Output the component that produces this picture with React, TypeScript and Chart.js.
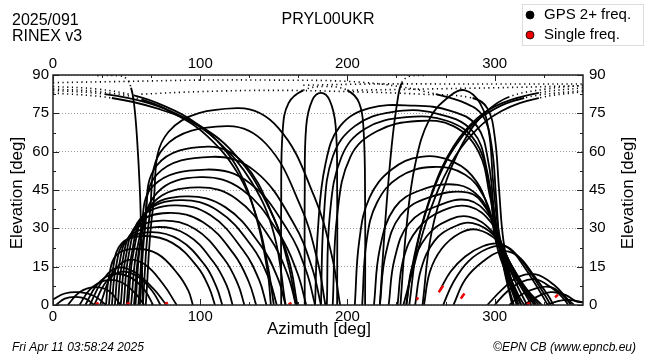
import React, { useEffect, useRef } from 'react';
import { Chart, registerables } from 'chart.js';

Chart.register(...registerables);

const FONT = '"Liberation Sans", Arial, Helvetica, sans-serif';

// ---- axis ticks ----
const azimuthTickValues = [0, 100, 200, 300];
const azimuthMinorTicks = [33.3, 66.7, 133.3, 166.7, 233.3, 266.7, 333.3];
const elevationTickValues = [0, 15, 30, 45, 60, 75, 90];
const elevationMinorTicks = [7.5, 22.5, 37.5, 52.5, 67.5, 82.5];

// ---- texts ----
const stationName = 'PRYL00UKR';
const headerLines = ['2025/091', 'RINEX v3'];
const legendLabels = ['GPS 2+ freq.', 'Single freq.'];
const footerLeft = 'Fri Apr 11 03:58:24 2025';
const footerRight = '\u00A9EPN CB (www.epncb.eu)';

// ---- satellite tracks: [azimuth deg, elevation deg] ----
const northEastArches: number[][][] = [
  [[2, 0], [8, 2.5], [15, 3.2], [22, 2.5], [28, 0]],
  [[0, 2.2], [8, 4.5], [18, 5], [28, 3.5], [36, 0]],
  [[10, 0], [18, 5], [28, 7], [38, 5.5], [46, 0]],
  [[18, 0], [25, 6], [35, 9.5], [46, 9], [56, 4.5], [62, 0]],
  [[22, 0], [30, 8], [40, 12], [52, 11], [62, 6], [68, 0]],
  [[25, 0], [33, 9], [43, 14.5], [55, 13], [68, 6.5], [77, 0]],
  [[28, 0], [36, 9], [46, 13], [58, 11], [68, 5], [73, 0]],
  [[32, 0], [40, 12], [50, 17.5], [62, 16], [75, 8], [84, 0]],
  [[36, 0], [38, 11], [43, 19.5], [55, 22], [71, 20], [85, 12], [92, 5.5], [95, 0]],
  [[38, 0], [40.5, 13.5], [46.5, 24], [62, 27], [81, 24.3], [98, 15], [106, 6.8], [110, 0]],
  [[40, 0], [42.6, 14.3], [49, 25], [66, 28.5], [85.5, 25.6], [103, 15.7], [111, 7.1], [115, 0]],
  [[42, 0], [44.8, 15.3], [51.8, 26.8], [70, 30.5], [91, 27.5], [109, 16.8], [118, 7.6], [122, 0]],
  [[44, 0], [47, 16.5], [54.5, 29], [74, 33], [96.5, 29.7], [116, 18.2], [125.5, 8.3], [130, 0]],
  [[46, 0], [49.2, 18], [57.2, 31.7], [78, 36], [102, 32.4], [123, 19.8], [133, 9], [138, 0]],
  [[48, 0], [51.4, 19.5], [60, 34.3], [82, 39], [107, 35.1], [129, 21.5], [140, 9.8], [145, 0]],
  [[50, 0], [53.6, 20.5], [62.6, 36], [86, 41], [112, 36.9], [135.5, 22.6], [146.7, 10.3], [152, 0]],
  [[51, 0], [54.9, 21.3], [64.7, 37.4], [90, 42.5], [117, 38.3], [141, 23.4], [152.6, 10.6], [158, 0]],
  [[53, 0], [57.5, 23], [68.8, 40.5], [98, 46], [124.8, 41.4], [148.3, 25.3], [159.6, 11.5], [165, 0]],
  [[55, 0], [59.5, 25], [70.8, 44], [100, 50], [128.8, 45], [154, 27.5], [166, 12.5], [172, 0]],
  [[56, 0], [59.8, 26.5], [68, 46.6], [104, 53], [133.6, 47.7], [159.5, 29.2], [172, 13.3], [178, 0]],
  [[58, 0], [62, 29], [70.5, 51], [108, 58], [137.6, 52.2], [163.5, 31.9], [176, 14.5], [182, 0]],
  [[59, 0], [62.7, 31], [70.5, 54.6], [105, 62], [129, 55.8], [150, 34.1], [160, 15.5], [165, 0]],
  [[61, 0], [65.6, 35], [75.3, 61.6], [118, 70], [144.8, 63], [168.3, 38.5], [179.6, 17.5], [185, 0]],
  [[63, 0], [68, 38.5], [78.5, 67.8], [125, 77], [153, 69.3], [177.5, 42.4], [189.4, 19.3], [195, 0]],
];

const zenithToSouthEast: number[][][] = [
  [[0, 85.5], [30, 84.5], [55, 82], [75, 78], [95, 72], [115, 62], [130, 48], [140, 30], [146, 12], [148, 0]],
  [[0, 84.5], [30, 83.5], [60, 80.5], [85, 74], [105, 66], [125, 52], [138, 35], [146, 15], [150, 0]],
  [[0, 84], [35, 82.5], [65, 79], [90, 73], [112, 64], [135, 48], [150, 28], [158, 0]],
  [[0, 83], [40, 81], [70, 77], [100, 70], [125, 58], [145, 40], [160, 18], [166, 0]],
];

const overheadPasses: number[][][] = [
  [[0, 87], [50, 87.5], [100, 88], [150, 88], [200, 87.5], [235, 85.5], [260, 82.5], [280, 79], [292, 74], [298, 62], [301, 42], [304, 22], [310, 6], [313, 0]],
  [[60, 82.5], [100, 83.5], [150, 84], [200, 83.5], [250, 82.5], [285, 81], [295, 77], [300, 66], [303, 45], [306, 25], [312, 8], [316, 0]],
  [[170, 86], [220, 86.5], [270, 86.5], [320, 86.5], [360, 86.5]],
  [[200, 84], [250, 84.5], [300, 85], [360, 85.8]],
  [[30, 89.7], [45, 89.7], [50, 88.5], [53, 85], [55, 79], [57, 66], [59, 45], [60, 25], [61, 0]],
  [[222, 0], [226, 35], [230, 62], [234, 80], [237, 87], [242, 89.5], [252, 89.8]],
  [[155, 0], [155, 40], [156, 68], [160, 79], [170, 84], [185, 85.5], [200, 84], [208, 79], [211, 68], [212, 40], [212, 0]],
  [[171, 0], [171, 45], [172, 70], [176, 80], [182, 83], [188, 80], [192, 70], [193, 45], [193, 0]],
];

const southWestArches: number[][][] = [
  [[236, 0], [240, 30], [246, 55], [256, 73], [270, 82], [280, 84], [290, 79], [296, 68], [299, 48], [303, 28], [310, 12], [318, 0]],
  [[178, 0], [180, 30], [185, 55], [195, 70], [215, 77], [245, 78], [270, 76], [288, 70], [296, 55], [300, 35], [306, 15], [312, 0]],
  [[182, 0], [184, 35], [190, 58], [205, 70], [230, 75.5], [260, 75], [285, 68], [295, 52], [300, 30], [308, 12], [315, 0]],
  [[186, 0], [188, 35], [196, 58], [212, 69], [240, 73.5], [268, 72], [287, 64], [296, 48], [302, 28], [310, 10], [316, 0]],
  [[190, 0], [193, 35], [202, 58], [220, 68], [248, 72], [272, 70], [289, 60], [297, 42], [304, 22], [312, 6], [316, 0]],
  [[205, 0], [208, 25], [215, 42], [230, 53], [250, 58], [272, 56], [288, 48], [297, 35], [303, 20], [312, 7], [318, 0]],
  [[210, 0], [213, 25], [220, 40], [235, 50], [258, 54], [280, 51], [293, 42], [300, 30], [307, 16], [316, 4], [320, 0]],
  [[218, 0], [222, 22], [232, 38], [250, 45], [275, 47], [290, 42], [299, 32], [306, 20], [315, 8], [322, 0]],
  [[222, 0], [226, 20], [236, 35], [255, 42], [282, 44], [294, 38], [302, 27], [310, 15], [320, 5], [325, 0]],
  [[228, 0], [232, 18], [242, 32], [262, 39], [282, 41], [296, 35], [304, 25], [312, 14], [322, 4], [327, 0]],
  [[234, 0], [238, 18], [248, 30], [265, 37], [283, 38.5], [298, 32], [306, 22], [315, 11], [326, 2], [328, 0]],
  [[240, 0], [244, 15], [254, 27], [268, 33], [283, 34.5], [298, 29], [307, 20], [317, 9], [328, 0]],
  [[246, 0], [250, 14], [259, 25], [272, 30.5], [285, 32], [300, 27], [309, 18], [320, 7], [330, 0]],
  [[252, 0], [256, 13], [264, 22], [276, 28], [288, 29.5], [302, 25], [311, 16], [322, 6], [332, 0]],
  [[263, 6], [270, 13], [280, 19], [292, 23], [303, 24], [312, 21], [320, 15], [330, 6], [336, 0]],
  [[265, 0], [272, 9], [282, 17], [295, 22], [307, 23], [316, 19], [325, 12], [334, 4], [338, 0]],
  [[272, 0], [280, 10], [292, 17], [305, 21], [316, 19], [326, 12], [336, 4], [340, 0]],
  [[295, 0], [305, 6], [316, 11], [328, 12], [340, 8], [350, 2], [354, 0]],
  [[300, 0], [308, 5], [318, 9], [328, 10], [338, 7], [346, 3], [350, 0]],
  [[310, 0], [318, 4], [328, 6.5], [338, 7], [346, 4], [352, 0]],
  [[320, 0], [328, 3], [338, 5], [348, 4], [355, 1.5], [360, 1]],
  [[335, 0], [343, 1.5], [350, 2], [356, 1.5], [360, 1]],
];

const zenithToSouthWest: number[][][] = [
  [[360, 85], [330, 83], [305, 79], [288, 73], [272, 62], [258, 45], [248, 25], [242, 0]],
  [[360, 84], [320, 81], [295, 75], [278, 66], [262, 50], [250, 30], [243, 12], [240, 0]],
  [[360, 86], [335, 84.5], [310, 81.5], [295, 76], [282, 67], [268, 50], [257, 28], [251, 0]],
  [[360, 83.5], [330, 81], [305, 76], [285, 67], [270, 55], [255, 35], [245, 15], [238, 0]],
];

const singleFreqSegments: number[][][] = [
  [[262, 5], [265, 7.5]],
  [[277, 2.5], [279.5, 4.5]],
  [[247, 2], [248, 3]],
  [[29, 0.3], [31, 0.8]],
  [[50, 0.3], [52, 0.8]],
  [[76, 0.3], [78, 1]],
  [[160, 0.3], [162, 0.8]],
  [[322, 0.3], [324, 0.8]],
  [[341, 3], [343, 4]],
];

function trackDataset(track: number[][], color: string, width: number, order: number, dottedAbove: number) {
  const high = (ctx: any) => ctx.p0.parsed.y > dottedAbove && ctx.p1.parsed.y > dottedAbove;
  return {
    data: track.map(([x, y]) => ({ x, y })),
    showLine: true,
    borderColor: color,
    backgroundColor: color,
    borderWidth: width,
    pointRadius: 0,
    tension: 0.4,
    order,
    segment: {
      borderDash: (ctx: any) => (high(ctx) ? [1.2, 3.5] : undefined),
      borderWidth: (ctx: any) => (high(ctx) ? 1.6 : undefined),
    },
  };
}

const decor = {
  id: 'decor',
  afterDraw(chart: any) {
    const { ctx, chartArea: a, scales } = chart;
    const xs = scales.x;
    const ys = scales.y;
    ctx.save();
    ctx.strokeStyle = '#222';
    ctx.lineWidth = 1;
    ctx.beginPath();
    const xt = (v: number, len: number) => {
      const px = Math.round(xs.getPixelForValue(v)) + 0.5;
      ctx.moveTo(px, a.bottom); ctx.lineTo(px, a.bottom - len);
      ctx.moveTo(px, a.top); ctx.lineTo(px, a.top + len);
    };
    const yt = (v: number, len: number) => {
      const py = Math.round(ys.getPixelForValue(v)) + 0.5;
      ctx.moveTo(a.left, py); ctx.lineTo(a.left + len, py);
      ctx.moveTo(a.right, py); ctx.lineTo(a.right - len, py);
    };
    azimuthTickValues.forEach((v) => xt(v, 6));
    azimuthMinorTicks.forEach((v) => xt(v, 3));
    elevationTickValues.forEach((v) => yt(v, 6));
    elevationMinorTicks.forEach((v) => yt(v, 3));
    ctx.stroke();
    ctx.strokeStyle = '#222';
    ctx.lineWidth = 1.5;
    ctx.strokeRect(a.left, a.top, a.right - a.left, a.bottom - a.top);

    ctx.fillStyle = '#000';
    ctx.textBaseline = 'middle';
    ctx.font = `16px ${FONT}`;
    ctx.textAlign = 'left';
    ctx.fillText(headerLines[0], 12, 21);
    ctx.fillText(headerLines[1], 12, 37);
    ctx.textAlign = 'center';
    ctx.fillText(stationName, 328, 20);

    ctx.font = `17px ${FONT}`;
    ctx.fillText('Azimuth [deg]', 319, 329);
    ctx.save();
    ctx.translate(17, 193);
    ctx.rotate(-Math.PI / 2);
    ctx.fillText('Elevation [deg]', 0, 0);
    ctx.restore();
    ctx.save();
    ctx.translate(628, 193);
    ctx.rotate(-Math.PI / 2);
    ctx.fillText('Elevation [deg]', 0, 0);
    ctx.restore();

    ctx.font = `italic 12px ${FONT}`;
    ctx.textAlign = 'left';
    ctx.fillText(footerLeft, 12, 348);
    ctx.textAlign = 'right';
    ctx.fillText(footerRight, 636, 348);

    ctx.fillStyle = '#fff';
    ctx.fillRect(522, 4, 121, 42);
    ctx.strokeStyle = '#ddd';
    ctx.lineWidth = 1;
    ctx.strokeRect(522.5, 4.5, 121, 41);
    const colors = ['#000', '#ee0000'];
    legendLabels.forEach((label, i) => {
      const cy = 15 + i * 20;
      ctx.fillStyle = colors[i];
      ctx.beginPath();
      ctx.arc(530, cy, 4, 0, Math.PI * 2);
      ctx.fill();
      ctx.strokeStyle = '#000';
      ctx.lineWidth = 0.8;
      ctx.stroke();
      ctx.fillStyle = '#000';
      ctx.font = `15px ${FONT}`;
      ctx.textAlign = 'left';
      ctx.fillText(label, 544, cy);
    });
    ctx.restore();
  },
};

export default function App() {
  const ref = useRef<HTMLCanvasElement>(null);
  useEffect(() => {
    const canvas = ref.current as HTMLCanvasElement;
    const datasets: any[] = [
      ...singleFreqSegments.map((t) => trackDataset(t, '#ee0000', 2.5, 0, 99)),
      ...northEastArches.map((t) => trackDataset(t, '#000', 1.8, 1, 99)),
      ...southWestArches.map((t) => trackDataset(t, '#000', 1.8, 1, 99)),
      ...zenithToSouthEast.map((t) => trackDataset(t, '#000', 1.8, 1, 80.2)),
      ...zenithToSouthWest.map((t) => trackDataset(t, '#000', 1.8, 1, 80.2)),
      ...overheadPasses.map((t) => trackDataset(t, '#000', 1.8, 1, 80.2)),
    ];
    const tickFont = { family: FONT, size: 15 };
    const chart = new Chart(canvas, {
      type: 'scatter',
      data: { datasets },
      plugins: [decor],
      options: {
        animation: false,
        responsive: false,
        devicePixelRatio: 1,
        events: [],
        layout: { padding: 0 },
        plugins: {
          legend: { display: false },
          title: { display: false },
          tooltip: { enabled: false },
        },
        scales: {
          x: {
            type: 'linear', axis: 'x', position: 'bottom', min: 0, max: 360,
            afterBuildTicks: (s: any) => { s.ticks = azimuthTickValues.map((v) => ({ value: v })); },
            afterFit: (s: any) => { s.height = 55; },
            grid: { display: false, drawTicks: false },
            border: { display: false },
            ticks: { font: tickFont, color: '#000', padding: 3, maxRotation: 0, autoSkip: false },
          },
          xTop: {
            type: 'linear', axis: 'x', position: 'top', min: 0, max: 360,
            afterBuildTicks: (s: any) => { s.ticks = azimuthTickValues.map((v) => ({ value: v })); },
            afterFit: (s: any) => { s.height = 75; },
            grid: { display: false, drawTicks: false },
            border: { display: false },
            ticks: { font: tickFont, color: '#000', padding: 2, maxRotation: 0, autoSkip: false },
          },
          y: {
            type: 'linear', axis: 'y', position: 'left', min: 0, max: 90,
            afterBuildTicks: (s: any) => { s.ticks = elevationTickValues.map((v) => ({ value: v })); },
            afterFit: (s: any) => { s.width = 53; },
            grid: { display: true, drawTicks: false, color: '#9a9a9a', lineWidth: 1 },
            border: { display: false, dash: [1, 2] },
            ticks: { font: tickFont, color: '#000', padding: 4, autoSkip: false },
          },
          yRight: {
            type: 'linear', axis: 'y', position: 'right', min: 0, max: 90,
            afterBuildTicks: (s: any) => { s.ticks = elevationTickValues.map((v) => ({ value: v })); },
            afterFit: (s: any) => { s.width = 67; },
            grid: { display: false, drawTicks: false },
            border: { display: false },
            ticks: { font: tickFont, color: '#000', padding: 6, autoSkip: false },
          },
        },
      } as any,
    });
    return () => chart.destroy();
  }, []);
  return (
    <div style={{ position: 'fixed', left: 0, top: 0, width: 650, height: 360, background: '#fff' }}>
      <canvas ref={ref} width={650} height={360} style={{ display: 'block', width: 650, height: 360 }} />
    </div>
  );
}
